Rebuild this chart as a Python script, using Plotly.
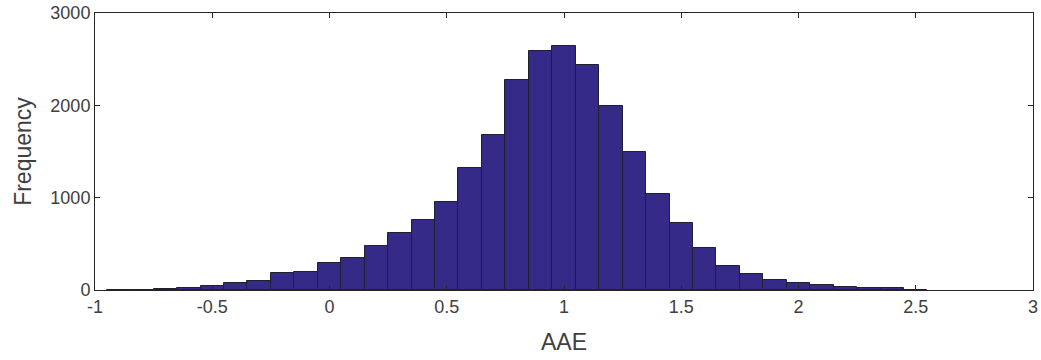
import plotly.graph_objects as go

bin_centers = [-0.9, -0.8, -0.7, -0.6, -0.5, -0.4, -0.3, -0.2, -0.1, 0.0,
               0.1, 0.2, 0.3, 0.4, 0.5, 0.6, 0.7, 0.8, 0.9, 1.0,
               1.1, 1.2, 1.3, 1.4, 1.5, 1.6, 1.7, 1.8, 1.9, 2.0,
               2.1, 2.2, 2.3, 2.4, 2.5]
frequency = [2, 5, 10, 18, 42, 72, 97, 180, 198, 295,
             350, 476, 620, 754, 955, 1316, 1677, 2272, 2586, 2643,
             2434, 1991, 1496, 1035, 722, 460, 262, 170, 113, 77,
             50, 35, 25, 18, 3]
bin_width = 0.1

x_tickvals = [-1, -0.5, 0, 0.5, 1, 1.5, 2, 2.5, 3]
x_ticktext = ["-1", "-0.5", "0", "0.5", "1", "1.5", "2", "2.5", "3"]
y_tickvals = [0, 1000, 2000, 3000]
y_ticktext = ["0", "1000", "2000", "3000"]

axis_color = "#262626"
text_color = "#404040"
font_family = "Liberation Sans, Arial, Helvetica, sans-serif"

fig = go.Figure(
    go.Bar(
        x=bin_centers,
        y=frequency,
        width=[bin_width] * len(bin_centers),
        marker=dict(color="#352A87", line=dict(color="#1f1f2e", width=1)),
        hoverinfo="x+y",
    )
)

fig.update_layout(
    width=1041,
    height=360,
    margin=dict(l=95, r=8, t=13, b=70, autoexpand=False),
    paper_bgcolor="white",
    plot_bgcolor="white",
    showlegend=False,
    font=dict(family=font_family, color=text_color, size=18),
    bargap=0,
)

fig.update_xaxes(
    range=[-1, 3],
    tickvals=x_tickvals,
    ticktext=x_ticktext,
    automargin=False,
    showline=True,
    mirror="ticks",
    linecolor=axis_color,
    linewidth=1,
    ticks="inside",
    ticklen=5,
    tickcolor=axis_color,
    showgrid=False,
    zeroline=False,
    tickfont=dict(size=18, color=text_color),
    title=dict(text="AAE", font=dict(size=23, color=text_color), standoff=18),
)

fig.update_yaxes(
    range=[0, 3000],
    tickvals=y_tickvals,
    ticktext=y_ticktext,
    automargin=False,
    showline=True,
    mirror="ticks",
    linecolor=axis_color,
    linewidth=1,
    ticks="inside",
    ticklen=5,
    tickcolor=axis_color,
    showgrid=False,
    zeroline=False,
    tickfont=dict(size=18, color=text_color),
    title=dict(text="Frequency", font=dict(size=23, color=text_color), standoff=12),
)

# remove the browser's default 8px page margin so the figure fills the window exactly
fig.write_html(
    "out.html",
    config={"displayModeBar": False},
    post_script="document.body.style.margin='0';document.body.style.overflow='hidden';",
)
